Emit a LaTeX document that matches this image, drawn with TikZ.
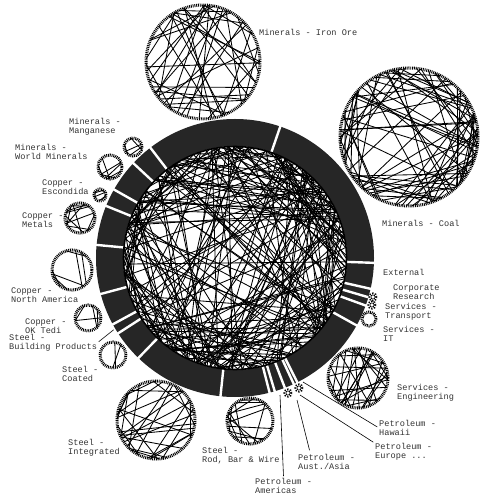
\documentclass[tikz,border=0pt]{standalone}
\usepackage{fontspec}
\setmonofont{Liberation Mono}
\usetikzlibrary{calc}
\definecolor{RingGray}{HTML}{262626}
\definecolor{LabelGray}{HTML}{333333}

% one unit's circle with its own links inside
\newcommand{\chordball}[4]{%
  \pgfmathsetseed{#4}
  \begin{scope}[shift={#1}]
    \foreach \k in {1,...,#3}{
      \pgfmathsetmacro{\ca}{360*rnd}
      \pgfmathsetmacro{\cb}{\ca+40+280*rnd}
      \draw[chord] (\ca:#2) -- (\cb:#2);
    }
    \draw[rim] (0,0) circle (#2);
  \end{scope}}

\begin{document}
\begin{tikzpicture}[x=1pt,y=1pt,
    chord/.style={line width=0.85pt},
    rim/.style={line width=3pt,dash pattern=on 0.9pt off 0.9pt},
    star/.style={line width=3pt,dash pattern=on 0.8pt off 1.4pt},
    gapline/.style={white,line width=2.4pt},
    seglabel/.style={font=\ttfamily\fontsize{8.6}{9}\selectfont,text=LabelGray,align=left,anchor=west,inner sep=0pt},
    leader/.style={line width=0.6pt,shorten >=2pt}
  ]
  \useasboundingbox (-235,-236) rectangle (244,258);

  % segment ring
  \fill[RingGray,even odd rule] (0,0) circle (139) (0,0) circle (112);
  \foreach \g in {-2,71,127.5,137,150.5,158,174.6,195,208.5,212.8,226,264,284.4,286.6,291,295,296.6,331,340,343.6,347.2}
    \draw[gapline] (\g:110) -- (\g:141);

  % links between units
  \pgfmathsetseed{7}
  \foreach \k in {1,...,210}{
    \pgfmathsetmacro{\ca}{360*rnd}
    \pgfmathsetmacro{\cb}{\ca+30+300*rnd}
    \draw[chord] (\ca:111) -- (\cb:111);
  }
  \draw[line width=1.6pt] (0,0) circle (111.5);

  % unit circles
  \chordball{(-32,196)}{57}{40}{11}
  \chordball{(174,121)}{69}{75}{12}
  \chordball{(-102,111)}{9}{4}{13}
  \chordball{(-125,91)}{12}{6}{14}
  \chordball{(-135,63)}{6}{4}{15}
  \chordball{(-155,40)}{15}{10}{16}
  \chordball{(-163,-12)}{20}{6}{17}
  \chordball{(-147,-60)}{13}{4}{18}
  \chordball{(-122,-97)}{13}{2}{19}
  \chordball{(-79,-162)}{39}{28}{20}
  \chordball{(15,-163)}{23}{14}{21}
  \chordball{(123,-120)}{30}{28}{22}
  \draw[rim] (134,-61) circle (7);
  \draw[star] (137,-47) circle (3);
  \draw[star] (138,-39) circle (3);
  \draw[star] (53,-135) circle (3);
  \draw[star] (64,-130) circle (3);

  % labels
  \node[seglabel] (ironore) at (24,226) {Minerals - Iron Ore};
  \node[seglabel] (coal) at (147,35) {Minerals - Coal};
  \node[seglabel] (external) at (148,-14) {External};
  \node[seglabel] (corpres) at (158,-34) {Corporate\\Research};
  \node[seglabel] (transport) at (150,-54) {Services -\\Transport};
  \node[seglabel] (servit) at (148,-76) {Services -\\IT};
  \node[seglabel] (engineering) at (162,-135) {Services -\\Engineering};
  \node[seglabel] (hawaii) at (144,-170) {Petroleum -\\Hawaii};
  \node[seglabel] (europe) at (140,-194) {Petroleum -\\Europe ...};
  \node[seglabel] (austasia) at (63,-204) {Petroleum -\\Aust./Asia};
  \node[seglabel] (americas) at (20,-228) {Petroleum -\\Americas};
  \node[seglabel] (rodbar) at (-33,-198) {Steel -\\Rod, Bar \& Wire};
  \node[seglabel] (integrated) at (-167,-190) {Steel -\\Integrated};
  \node[seglabel] (coated) at (-173,-116) {Steel -\\Coated};
  \node[seglabel] (buildprod) at (-226,-85) {Steel -\\Building Products};
  \node[seglabel] (oktedi) at (-210,-68) {Copper -\\OK Tedi};
  \node[seglabel] (copperna) at (-224,-37) {Copper -\\North America};
  \node[seglabel] (metals) at (-213,38) {Copper -\\Metals};
  \node[seglabel] (escondida) at (-193,71) {Copper -\\Escondida};
  \node[seglabel] (worldmin) at (-220,106) {Minerals -\\World Minerals};
  \node[seglabel] (manganese) at (-166,131) {Minerals -\\Manganese};

  % leaders
  \coordinate (bpbar) at (210.6:141);
  \coordinate (amstart) at (45,-137);
  \coordinate (austart) at (62,-142);
  \coordinate (eustart) at (65,-137);
  \coordinate (hastart) at (68,-124);
  \draw[leader] (bpbar) -- (buildprod.east);
  \draw[leader] (amstart) -- (americas.north);
  \draw[leader] (austart) -- ($(austasia.north west)+(12,2)$);
  \draw[leader] (eustart) -- (europe.north west);
  \draw[leader] (hastart) -- (hawaii.west);
\end{tikzpicture}
\end{document}
